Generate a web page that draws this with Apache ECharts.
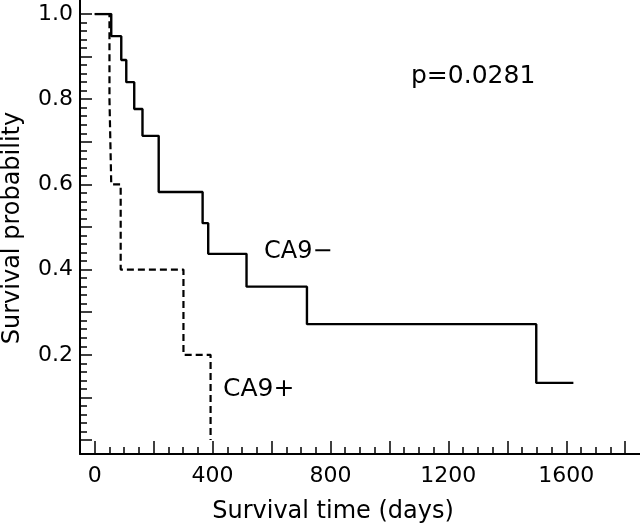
<!DOCTYPE html>
<html>
<head>
<meta charset="utf-8">
<script src="https://cdn.jsdelivr.net/npm/echarts@6/dist/echarts.min.js"></script>
<style>
html,body{margin:0;padding:0;background:#fff;}
#chart{width:640px;height:529px;}
</style>
</head>
<body>
<div id="chart"></div>
<script>
// Kaplan-Meier survival data (time in days, survival probability)
const ca9NegTime = [0, 56, 90, 107, 134, 162, 217, 366, 385, 515, 720, 1498, 1624];
const ca9NegSurv = [1.0, 0.948, 0.892, 0.840, 0.777, 0.714, 0.582, 0.509, 0.437, 0.360, 0.272, 0.134, 0.134];
const ca9PosTime = [0, 50, 56, 88, 301, 393];
const ca9PosSurv = [1.0, 0.8, 0.6, 0.4, 0.2, 0.0];
const xTickLabels = [0, 400, 800, 1200, 1600];
const yTickLabels = [0.2, 0.4, 0.6, 0.8, 1.0];
const groupNames = ['CA9\u2212', 'CA9+'];
const pText = 'p=0.0281';
const xTitle = 'Survival time (days)';
const yTitle = 'Survival probability';

const FONT = '"DejaVu Sans"';
const TXT = '#000';
const chart = echarts.init(document.getElementById('chart'), null, {renderer: 'canvas'});

const toPairs = (xs, ys) => xs.map((x, i) => [x, ys[i]]);

const option = {
  backgroundColor: '#fff',
  animation: false,
  grid: [
    {left: 80, right: 0, top: 14, bottom: 89, outerBoundsMode: 'none', containLabel: false},   // data
    {left: 80, right: 0, top: 0, bottom: 75, outerBoundsMode: 'none', containLabel: false},    // frame
    {left: 94.7, right: 14.8, top: 0, bottom: 75, outerBoundsMode: 'none', containLabel: false} // x ticks
  ],
  xAxis: [
    {gridIndex: 0, type: 'value', min: -50, max: 1850, show: false},
    {gridIndex: 1, type: 'value', min: -50, max: 1850,
      axisLine: {show: true, onZero: false, lineStyle: {color: '#000', width: 2}},
      axisTick: {show: false}, axisLabel: {show: false}, splitLine: {show: false}},
    {gridIndex: 2, type: 'value', min: 0, max: 1800, interval: 200,
      axisLine: {show: false, onZero: false},
      axisTick: {show: true, inside: true, length: 13, lineStyle: {color: '#000', width: 1.5}},
      minorTick: {show: true, splitNumber: 4, length: 7, lineStyle: {color: '#000', width: 1.5}},
      splitLine: {show: false},
      axisLabel: {show: true, margin: 11, color: TXT, fontFamily: FONT, fontSize: 22,
        formatter: v => xTickLabels.indexOf(Math.round(v)) >= 0 ? String(Math.round(v)) : ''}}
  ],
  yAxis: [
    {gridIndex: 0, type: 'value', min: 0, max: 1, interval: 0.1,
      axisLine: {show: false, onZero: false},
      axisTick: {show: true, inside: true, length: 12, lineStyle: {color: '#000', width: 1.5}},
      minorTick: {show: true, splitNumber: 5, length: 7, lineStyle: {color: '#000', width: 1.5}},
      splitLine: {show: false},
      axisLabel: {show: true, margin: 7, color: TXT, fontFamily: FONT, fontSize: 22,
        formatter: v => {
          const r = Math.round(v * 10) / 10;
          return yTickLabels.some(t => Math.abs(t - r) < 1e-9) && Math.abs(v - r) < 1e-6 ? r.toFixed(1) : '';
        }}},
    {gridIndex: 1, type: 'value', min: 0, max: 1,
      axisLine: {show: true, onZero: false, lineStyle: {color: '#000', width: 2}},
      axisTick: {show: false}, axisLabel: {show: false}, splitLine: {show: false}},
    {gridIndex: 2, type: 'value', min: 0, max: 1, show: false}
  ],
  series: [
    {type: 'line', name: groupNames[0], xAxisIndex: 0, yAxisIndex: 0, step: 'end',
      data: toPairs(ca9NegTime, ca9NegSurv), showSymbol: false, symbol: 'none',
      lineStyle: {color: '#000', width: 2.4, type: 'solid'}},
    {type: 'line', name: groupNames[1], xAxisIndex: 0, yAxisIndex: 0, step: 'end',
      data: toPairs(ca9PosTime, ca9PosSurv), showSymbol: false, symbol: 'none',
      lineStyle: {color: '#000', width: 2.2, type: [7, 4]}}
  ],
  graphic: [
    {type: 'text', x: 264, y: 252,
      style: {text: groupNames[0], font: '24px ' + FONT, fill: TXT, align: 'left', verticalAlign: 'middle'}},
    {type: 'text', x: 223, y: 389,
      style: {text: groupNames[1], font: '25px ' + FONT, fill: TXT, align: 'left', verticalAlign: 'middle'}},
    {type: 'text', x: 411, y: 76,
      style: {text: pText, font: '25px ' + FONT, fill: TXT, align: 'left', verticalAlign: 'middle'}},
    {type: 'text', x: 333, y: 512,
      style: {text: xTitle, font: '24px ' + FONT, fill: TXT, align: 'center', verticalAlign: 'middle'}},
    {type: 'text', x: 13, y: 228, rotation: Math.PI / 2,
      style: {text: yTitle, font: '24px ' + FONT, fill: TXT, align: 'center', verticalAlign: 'middle'}}
  ]
};
chart.setOption(option);
</script>
</body>
</html>
